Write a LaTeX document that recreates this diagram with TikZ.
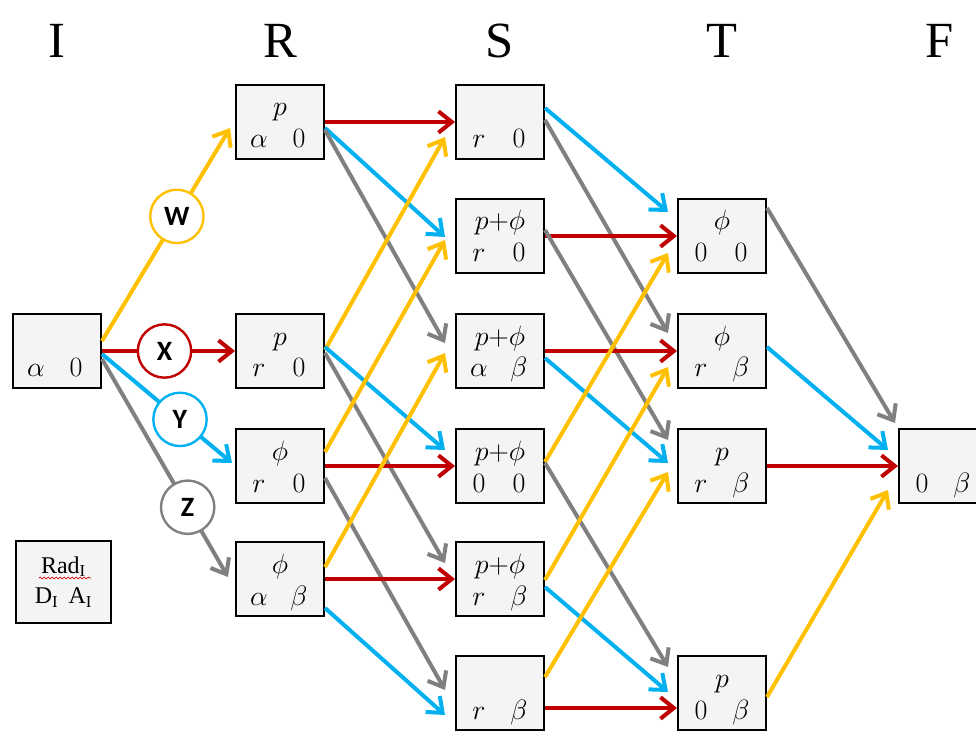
\RequirePackage{fix-cm}
\documentclass[tikz,border=0pt]{standalone}
\usepackage{fontspec}
\setmainfont{Liberation Serif}
\newfontfamily\lblfont{Carlito}
\usetikzlibrary{arrows.meta,calc,decorations.pathmorphing}

\definecolor{cyel}{HTML}{FFC000}
\definecolor{cred}{HTML}{C00000}
\definecolor{cblu}{HTML}{00B0F0}
\definecolor{cgry}{HTML}{808080}
\definecolor{boxfill}{HTML}{F4F4F4}

% state box: name, centre x, top y, upper label, lower-left label, lower-right label
\newcommand\stbox[6]{%
  \node[statebox] (#1) at (#2,#3+38) {};
  \node[boxtext] (#1t) at (#2,#3+32) {#4};
  \node[boxtext] (#1l) at (#2-21,#3+64) {#5};
  \node[boxtext] (#1r) at (#2+19,#3+64) {#6};
}

\begin{document}
\begin{tikzpicture}[x=0.75pt,y=-0.75pt,
  statebox/.style={draw=black, line width=1.5pt, fill=boxfill,
    minimum width=66pt, minimum height=56pt, inner sep=0pt},
  boxtext/.style={anchor=base, inner sep=0pt, font=\fontsize{21}{24}\selectfont},
  head/.style={anchor=base, inner sep=0pt, font=\fontsize{38}{40}\selectfont},
  flow/.style={line width=3pt, -{Straight Barb[length=10pt,width=16pt]}},
  yel/.style={flow, draw=cyel},
  rd/.style={flow, draw=cred},
  bl/.style={flow, draw=cblu},
  gr/.style={flow, draw=cgry},
  choice/.style={circle, fill=white, line width=1.8pt, minimum size=40pt,
    inner sep=0pt, text=black, font=\lblfont\bfseries\fontsize{21}{24}\selectfont}
]
\clip (0,0) rectangle (976,731);

% column headings
\node[head] (hI) at (57,58) {I};
\node[head] (hR) at (280,58) {R};
\node[head] (hS) at (500,58) {S};
\node[head] (hT) at (722,58) {T};
\node[head] (hF) at (940,58) {F};

% states
\stbox{I}{57}{313}{}{$\alpha$}{$0$}
\stbox{R1}{280}{84}{$p$}{$\alpha$}{$0$}
\stbox{R2}{280}{313}{$p$}{$r$}{$0$}
\stbox{R3}{280}{428}{$\phi$}{$r$}{$0$}
\stbox{R4}{280}{541}{$\phi$}{$\alpha$}{$\beta$}
\stbox{S1}{500}{84}{}{$r$}{$0$}
\stbox{S2}{500}{198}{$p{+}\phi$}{$r$}{$0$}
\stbox{S3}{500}{313}{$p{+}\phi$}{$\alpha$}{$\beta$}
\stbox{S4}{500}{428}{$p{+}\phi$}{$0$}{$0$}
\stbox{S5}{500}{541}{$p{+}\phi$}{$r$}{$\beta$}
\stbox{S6}{500}{655}{}{$r$}{$\beta$}
\stbox{T2}{722}{198}{$\phi$}{$0$}{$0$}
\stbox{T3}{722}{313}{$\phi$}{$r$}{$\beta$}
\stbox{T4}{722}{428}{$p$}{$r$}{$\beta$}
\stbox{T6}{722}{655}{$p$}{$0$}{$\beta$}
\stbox{F}{943}{428}{}{$0$}{$\beta$}

% legend box
\node[statebox, minimum width=71pt, minimum height=61pt, align=center,
  font=\fontsize{18}{23}\selectfont] (rad) at (63.5,582)
  {Rad\textsubscript{I}\\D\textsubscript{I}\, A\textsubscript{I}};
\draw[cred, line width=0.5pt, decorate,
  decoration={snake, amplitude=0.7pt, segment length=3pt}] (39,578) -- (91,578);

% initial choices
\draw[yel] ($(I.east)+(0,-10)$) -- node[choice, draw=cyel, pos=0.585] (W) {W} ($(R1.west)+(-5,6)$);
\draw[rd] (I.east) -- node[choice, draw=cred, pos=0.47] (X) {X} (R2.west);
\draw[bl] ($(I.east)+(0,3)$) -- node[choice, draw=cblu, pos=0.6] (Y) {Y} ($(R3.west)+(-3,-3)$);
\draw[gr] ($(I.east)+(0,8)$) -- node[choice, draw=cgry, pos=0.68] (Z) {Z} ($(R4.west)+(-7,-2)$);

% R -> S
\draw[rd] (R1.east) -- (S1.west);
\draw[bl] ($(R1.east)+(0,6)$) -- ($(S2.west)+(-10,1)$);
\draw[gr] ($(R1.east)+(0,8)$) -- ($(S3.west)+(-10,-8)$);
\draw[yel] ($(R2.east)+(0,-1)$) -- ($(S1.west)+(-10,15)$);
\draw[bl] ($(R2.east)+(0,-4)$) -- ($(S4.west)+(-10,-16)$);
\draw[gr] ($(R2.east)+(0,2)$) -- ($(S5.west)+(-10,-16)$);
\draw[yel] ($(R3.east)+(0,-14)$) -- ($(S2.west)+(-10,4)$);
\draw[rd] (R3.east) -- (S4.west);
\draw[gr] ($(R3.east)+(0,12)$) -- ($(S6.west)+(-10,-3)$);
\draw[yel] ($(R4.east)+(0,-12)$) -- ($(S3.west)+(-10,2)$);
\draw[rd] (R4.east) -- (S5.west);
\draw[bl] ($(R4.east)+(0,29)$) -- ($(S6.west)+(-10,22)$);

% S -> T
\draw[bl] ($(S1.east)+(0,-14)$) -- ($(T2.west)+(-9,-24)$);
\draw[gr] ($(S1.east)+(0,-2)$) -- ($(T3.west)+(-9,-18)$);
\draw[rd] (S2.east) -- (T2.west);
\draw[gr] ($(S2.east)+(0,-6)$) -- ($(T4.west)+(-9,-26)$);
\draw[rd] (S3.east) -- (T3.west);
\draw[bl] ($(S3.east)+(0,7)$) -- ($(T4.west)+(-9,-3)$);
\draw[yel] ($(S4.east)+(0,-4)$) -- ($(T2.west)+(-9,17)$);
\draw[gr] ($(S4.east)+(0,-3)$) -- ($(T6.west)+(-9,-26)$);
\draw[yel] ($(S5.east)+(0,1)$) -- ($(T3.west)+(-9,16)$);
\draw[bl] ($(S5.east)+(0,8)$) -- ($(T6.west)+(-9,-1)$);
\draw[yel] ($(S6.east)+(0,-16)$) -- ($(T4.west)+(-9,6)$);
\draw[rd] ($(S6.east)+(0,15)$) -- ($(T6.west)+(0,15)$);

% T -> F
\draw[gr] ($(T2.east)+(0,-28)$) -- ($(F.west)+(-3,-43)$);
\draw[bl] ($(T3.east)+(0,-4)$) -- ($(F.west)+(-10,-16)$);
\draw[rd] (T4.east) -- (F.west);
\draw[yel] ($(T6.east)+(0,4)$) -- ($(F.west)+(-10,24)$);
\end{tikzpicture}
\end{document}
